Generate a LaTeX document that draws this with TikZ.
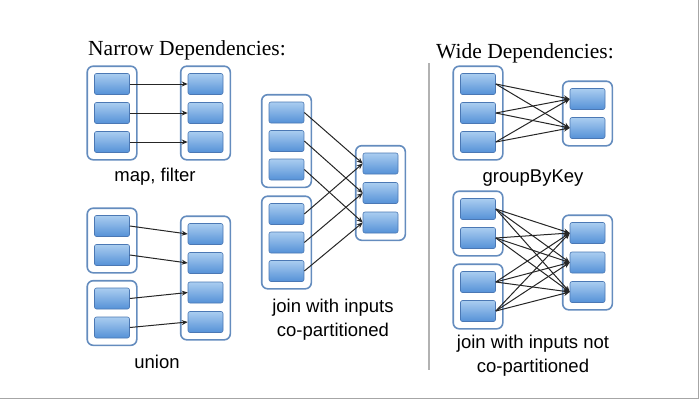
\documentclass[tikz,border=0pt]{standalone}
\usepackage{fontspec}
\setmainfont{Liberation Serif}
\setsansfont{Liberation Sans}
\usetikzlibrary{arrows.meta,fit,backgrounds}

\definecolor{rddline}{RGB}{100,140,190}
\definecolor{partline}{RGB}{75,120,180}
\definecolor{parttop}{RGB}{170,205,240}
\definecolor{partbot}{RGB}{85,145,215}

\tikzset{
  part/.style={draw=partline, rounded corners=2pt, minimum width=35pt, minimum height=21pt,
    top color=parttop, bottom color=partbot, line width=0.6pt},
  rdd/.style={draw=rddline, fill=white, rounded corners=6pt, line width=1.6pt, inner sep=7pt},
  dep/.style={black!85, line width=1pt, -{Stealth[length=6pt,width=5pt]}},
  title/.style={font=\fontsize{21.5}{24}\selectfont, anchor=base},
  label/.style={font=\sffamily\fontsize{18.5}{24}\selectfont, align=center}
}

\begin{document}
\begin{tikzpicture}[x=1pt, y=-1pt]

%% Fixed page size
\useasboundingbox (0,0) rectangle (700,400);
\draw[gray!70, line width=1pt] (0,398.5)--(698.5,398.5)--(698.5,0);

%% Titles
\node[title] (narrow) at (187,55) {Narrow Dependencies:};
\node[title] (wide) at (525,58) {Wide Dependencies:};
\draw[gray!60, line width=1.2pt] (429,63)--(429,370);

%% map, filter
\foreach \i in {1,2,3}{
  \node[part] (ma\i) at (112, 84+29*\i-29) {};
  \node[part] (mb\i) at (205.5, 84+29*\i-29) {};
}
\begin{scope}[on background layer]
  \node[rdd, fit=(ma1)(ma3)] (mapin) {};
  \node[rdd, fit=(mb1)(mb3)] (mapout) {};
\end{scope}
\foreach \i in {1,2,3} \draw[dep] (ma\i.east)--(mb\i.west);
\node[label] (maplbl) at (155,177) {map, filter};

%% union
\foreach \i/\y in {1/226, 2/255, 3/298.5, 4/327.5}
  \node[part] (ua\i) at (112,\y) {};
\foreach \i/\y in {1/234, 2/263, 3/292.5, 4/322}
  \node[part] (ub\i) at (205.5,\y) {};
\begin{scope}[on background layer]
  \node[rdd, fit=(ua1)(ua2)] (unionin1) {};
  \node[rdd, fit=(ua3)(ua4)] (unionin2) {};
  \node[rdd, fit=(ub1)(ub4)] (unionout) {};
\end{scope}
\foreach \i in {1,...,4} \draw[dep] (ua\i.east)--(ub\i.west);
\node[label] (unionlbl) at (157,362) {union};

%% join, co-partitioned
\foreach \i/\y in {1/112.5, 2/141, 3/169.5}{
  \node[part] (ja\i) at (286.5,\y) {};
  \node[part] (jb\i) at (286.5,\y+101.5) {};
}
\foreach \i/\y in {1/163.5, 2/193, 3/222.5}
  \node[part] (jc\i) at (380.5,\y) {};
\begin{scope}[on background layer]
  \node[rdd, fit=(ja1)(ja3)] (joinin1) {};
  \node[rdd, fit=(jb1)(jb3)] (joinin2) {};
  \node[rdd, fit=(jc1)(jc3)] (joinout) {};
\end{scope}
\foreach \i in {1,2,3}{
  \draw[dep] (ja\i.east)--(jc\i.west);
  \draw[dep] (jb\i.east)--(jc\i.west);
}
\node[label] (joinlbl) at (333,320) {join with inputs\\co-partitioned};

%% groupByKey
\foreach \i in {1,2,3}
  \node[part] (ga\i) at (478, 84+29*\i-29) {};
\foreach \i/\y in {1/99, 2/128}
  \node[part] (gb\i) at (587.5,\y) {};
\begin{scope}[on background layer]
  \node[rdd, fit=(ga1)(ga3)] (groupin) {};
  \node[rdd, fit=(gb1)(gb2)] (groupout) {};
\end{scope}
\foreach \i in {1,2,3}
  \foreach \j in {1,2}
    \draw[dep] (ga\i.east)--(gb\j.west);
\node[label] (grouplbl) at (533,178) {groupByKey};

%% join, not co-partitioned
\foreach \i/\y in {1/209, 2/238, 3/282, 4/311}
  \node[part] (wa\i) at (478,\y) {};
\foreach \i/\y in {1/233, 2/262.5, 3/292}
  \node[part] (wb\i) at (587.5,\y) {};
\begin{scope}[on background layer]
  \node[rdd, fit=(wa1)(wa2)] (widein1) {};
  \node[rdd, fit=(wa3)(wa4)] (widein2) {};
  \node[rdd, fit=(wb1)(wb3)] (wideout) {};
\end{scope}
\foreach \i in {1,...,4}
  \foreach \j in {1,2,3}
    \draw[dep] (wa\i.east)--(wb\j.west);
\node[label] (widelbl) at (533,355.5) {join with inputs not\\co-partitioned};

\end{tikzpicture}
\end{document}
